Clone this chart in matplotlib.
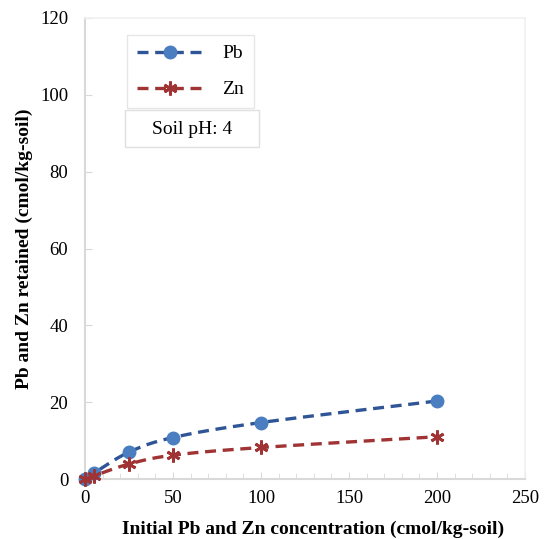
import numpy as np
import matplotlib
matplotlib.use("Agg")
import matplotlib.pyplot as plt
from matplotlib.lines import Line2D
from matplotlib.patches import Rectangle

# Data
conc = [0, 5, 25, 50, 100, 200]
pb = [0, 1.5, 7.0, 10.8, 14.7, 20.3]
zn = [0, 0.8, 3.9, 6.2, 8.2, 11.0]

plt.rcParams['font.family'] = ['Liberation Serif', 'DejaVu Serif']


def smooth(x, y, n=30):
    """Catmull-Rom style smoothing (like Excel smoothed line) for drawing."""
    x = np.asarray(x, float)
    y = np.asarray(y, float)
    P = np.column_stack([x, y])
    pts = [P[0]]
    for i in range(len(P) - 1):
        p0 = P[i - 1] if i > 0 else P[i]
        p1 = P[i]
        p2 = P[i + 1]
        p3 = P[i + 2] if i + 2 < len(P) else P[i + 1]
        c1 = p1 + (p2 - p0) / 6.0
        c2 = p2 - (p3 - p1) / 6.0
        t = np.linspace(0, 1, n)[1:, None]
        seg = ((1 - t) ** 3) * p1 + 3 * ((1 - t) ** 2) * t * c1 + 3 * (1 - t) * t ** 2 * c2 + t ** 3 * p2
        pts.extend(seg)
    pts = np.array(pts)
    return pts[:, 0], pts[:, 1]


fig = plt.figure(figsize=(5.44, 5.39), dpi=100)
ax = fig.add_axes([85 / 544, 1 - 479 / 539, 440 / 544, 461 / 539])

pb_line = '#2F5597'
pb_mark = '#4A7EC0'
zn_col = '#A03333'
dash = (0, (3.3, 2.0))

sx, sy = smooth(conc, pb)
ax.plot(sx, sy, color=pb_line, lw=2.4, ls=dash, zorder=2)
ax.plot(conc, pb, ls='none', marker='o', ms=9, color=pb_mark, zorder=3, clip_on=False)
sx, sy = smooth(conc, zn)
ax.plot(sx, sy, color=zn_col, lw=2.4, ls=dash, zorder=2)
ax.plot(conc, zn, ls='none', marker=(6, 2, 0), ms=10, mew=2, color=zn_col, zorder=4, clip_on=False)

ax.set_xlim(0, 250)
ax.set_ylim(0, 120)
ax.set_xticks([0, 50, 100, 150, 200, 250])
ax.set_yticks([0, 20, 40, 60, 80, 100, 120])
ax.set_xticks(np.arange(0, 251, 10), minor=True)

for side in ['left', 'bottom']:
    ax.spines[side].set_color('#D9D9D9')
    ax.spines[side].set_linewidth(1.5)
for side in ['top', 'right']:
    ax.spines[side].set_color('#F0F0F0')
    ax.spines[side].set_linewidth(1.2)

ax.tick_params(axis='both', which='both', direction='in', color='#D9D9D9', labelsize=13.5)
ax.tick_params(axis='x', which='major', length=5, pad=8)
ax.tick_params(axis='x', which='minor', length=4)
ax.tick_params(axis='y', which='major', length=5, pad=12)
ax.tick_params(axis='y', which='minor', length=0)

ax.set_xlabel('Initial Pb and Zn concentration (cmol/kg-soil)', fontsize=14, fontweight='bold', labelpad=10)
ax.xaxis.label.set_x((313 - 85) / 440)
ax.set_ylabel('Pb and Zn retained (cmol/kg-soil)', fontsize=14, fontweight='bold', labelpad=5)

handles = [
    Line2D([], [], color=pb_line, lw=2.4, ls=dash, marker='o', ms=9,
           markerfacecolor=pb_mark, markeredgecolor=pb_mark),
    Line2D([], [], color=zn_col, lw=2.4, ls=dash, marker=(6, 2, 0), ms=10, mew=2),
]
leg = ax.legend(handles, ['Pb', 'Zn'], loc='upper left', bbox_to_anchor=(42 / 440, 1 - 17 / 461),
                fontsize=14, frameon=True, fancybox=False, handlelength=3.4, handletextpad=1.0,
                borderpad=0.5, labelspacing=0.95, borderaxespad=0)
leg.get_frame().set_edgecolor('#E0E0E0')
leg.get_frame().set_linewidth(1.0)

fig.patches.append(Rectangle((125 / 544, 1 - 147 / 539), 134 / 544, 37 / 539, transform=fig.transFigure,
                             fc='white', ec='#E0E0E0', lw=1.0, zorder=5))
fig.text(192 / 544, 1 - 129 / 539, 'Soil pH: 4', ha='center', va='center', fontsize=14, zorder=6)

fig.savefig('out.png', dpi=100)
